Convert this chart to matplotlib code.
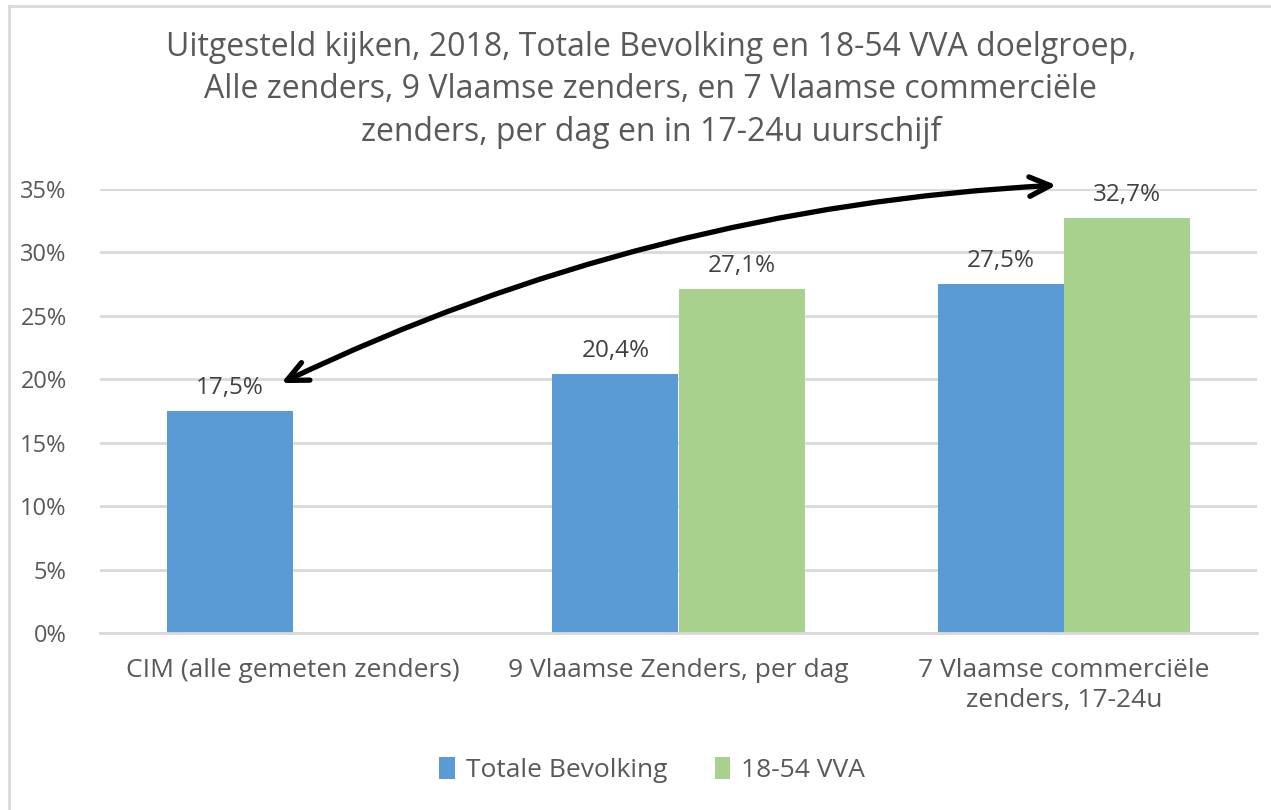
import matplotlib.pyplot as plt
import numpy as np
from matplotlib.lines import Line2D
from matplotlib.ticker import FuncFormatter

categories = ['CIM (alle gemeten zenders)', '9 Vlaamse Zenders, per dag',
              '7 Vlaamse commerciële\nzenders, 17-24u']
totale = [17.5, 20.4, 27.5]
vva = [np.nan, 27.1, 32.7]
series_names = ['Totale Bevolking', '18-54 VVA']
title = ('Uitgesteld kijken, 2018, Totale Bevolking en 18-54 VVA doelgroep,\n'
         'Alle zenders, 9 Vlaamse zenders, en 7 Vlaamse commerciële\n'
         'zenders, per dag en in 17-24u uurschijf')

blue = '#5B9BD5'
green = '#A9D18E'
grey_txt = '#595959'
dark_txt = '#404040'

plt.rcParams['font.family'] = ['Open Sans', 'DejaVu Sans']

fig = plt.figure(figsize=(12.71, 8.10), dpi=100)
ax = fig.add_axes([100/1271, 1 - 633/810, 1157/1271, (633 - 189)/810])

x = np.arange(len(categories))
w = 0.327
b1 = ax.bar(x - w/2, totale, w, color=blue, label=series_names[0], zorder=2)
b2 = ax.bar(x + w/2, vva, w, color=green, label=series_names[1], zorder=2)

for bars, vals in [(b1, totale), (b2, vva)]:
    for rect, v in zip(bars, vals):
        if np.isnan(v):
            continue
        ax.annotate(f'{v:.1f}%'.replace('.', ','),
                    (rect.get_x() + rect.get_width()/2, v),
                    xytext=(0, 8), textcoords='offset points',
                    ha='center', va='bottom', fontsize=17.5, color=dark_txt,
                    annotation_clip=False)

ax.set_xlim(-0.5, 2.5)
ax.set_ylim(0, 35)
ax.set_yticks(np.arange(0, 36, 5))
ax.yaxis.set_major_formatter(FuncFormatter(lambda v, p: f'{v:.0f}%'))
ax.set_xticks(x)
ax.set_xticklabels(categories, linespacing=1.25)
ax.tick_params(axis='both', length=0, colors=grey_txt)
ax.tick_params(axis='x', pad=18, labelsize=19)
ax.tick_params(axis='y', pad=24, labelsize=17)
ax.grid(axis='y', color='#D9D9D9', linewidth=2, zorder=0)
for s in ['top', 'right', 'left']:
    ax.spines[s].set_visible(False)
ax.spines['bottom'].set_color('#D9D9D9')
ax.spines['bottom'].set_linewidth(2)

# curved double arrow between CIM and commercial 18-54
ax.annotate('', xy=(1.98, 35.3), xytext=(-0.03, 19.7),
            annotation_clip=False,
            arrowprops=dict(arrowstyle='<->,head_length=1.5,head_width=0.7',
                            color='black', lw=3.8, shrinkA=0, shrinkB=0,
                            connectionstyle='arc3,rad=-0.1'))

fig.text(0.512, 1 - 90/810, title, ha='center', va='center', fontsize=23,
         color=grey_txt, linespacing=1.36)

fig.legend(handles=[b1, b2], labels=series_names, loc='center',
           bbox_to_anchor=(652/1271, 1 - 770/810), ncol=2, frameon=False,
           fontsize=19, labelcolor=grey_txt, handlelength=0.6, handleheight=0.9,
           columnspacing=1.8, handletextpad=0.4)

# chart frame edges (top and left visible)
fig.add_artist(Line2D([9/1271, 1], [1 - 6/810, 1 - 6/810], color='#D9D9D9', lw=2))
fig.add_artist(Line2D([9/1271, 9/1271], [0, 1 - 6/810], color='#D9D9D9', lw=2))

fig.savefig('out.png', dpi=100)
